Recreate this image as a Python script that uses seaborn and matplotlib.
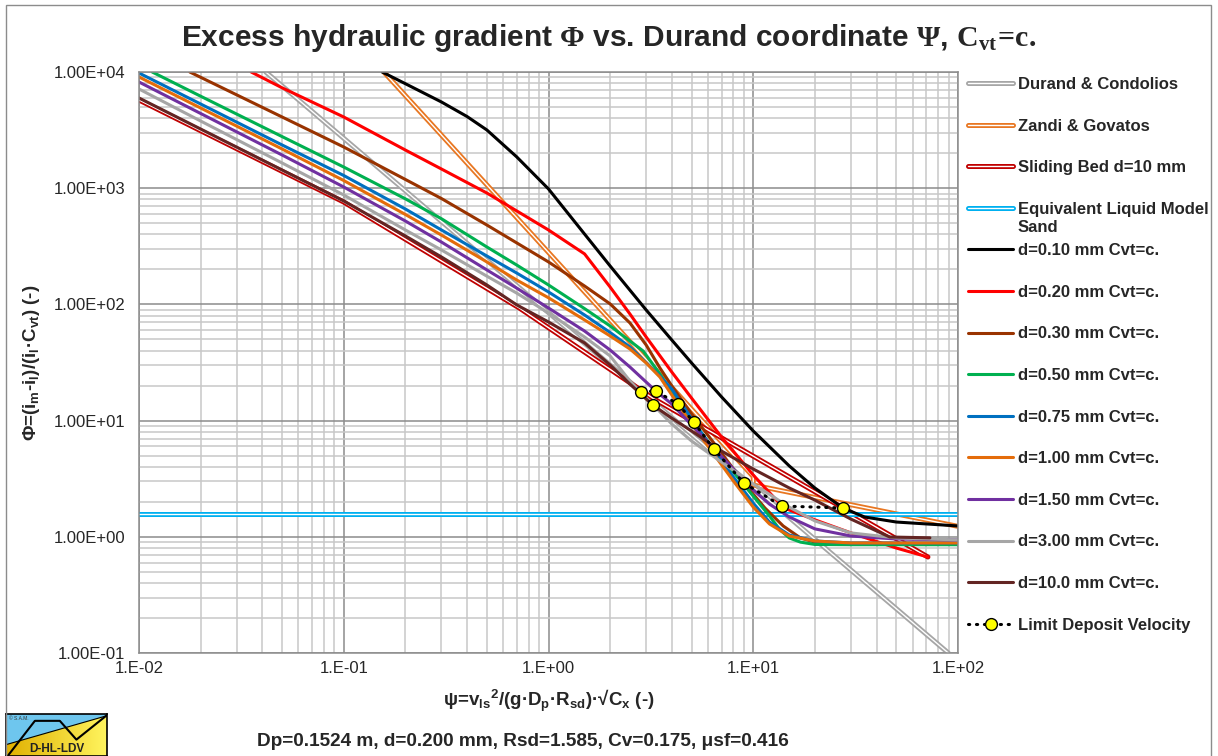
import numpy as np
import pandas as pd
import matplotlib
matplotlib.use("Agg")
import matplotlib.pyplot as plt
import matplotlib.patheffects as pe
from matplotlib.ticker import LogLocator, NullFormatter, FixedLocator
from matplotlib.patches import Rectangle, Polygon
from matplotlib.colors import LinearSegmentedColormap
import seaborn as sns

# ---------------- data ----------------
durand_x = [0.0416, 0.1, 1.0, 10.0, 89.7]
durand_y = [10000, 2688, 85, 2.69, 0.1]

zandi_x = [0.157, 1.0, 10.0, 10.0, 100]
zandi_y = [10000, 280, 3.29, 2.79, 1.23]

slide_x = [0.01, 0.1, 0.721, 3.23, 16.9, 71.3]
slide_y = [5740, 760, 93, 15.6, 2.90, 0.67]

elm_x = [0.01, 100]
elm_y = [1.585, 1.585]

d010_x = [0.154, 0.2, 0.3, 0.4, 0.5, 0.7, 1, 1.5, 2, 3, 4, 5, 7, 10, 15, 20, 27.4, 35, 50, 100]
d010_y = [10000, 7930, 5520, 4140, 3170, 1857, 985, 403, 214, 89.5, 49.4, 31.3, 16.0, 8.14, 4.07, 2.63, 1.77, 1.48, 1.34, 1.24]

d020_x = [0.0353, 0.05, 0.1, 0.2, 0.3, 0.5, 0.7, 1, 1.5, 2, 2.5, 3, 4, 5, 7, 10, 13.8, 15, 20, 30, 50, 71.3]
d020_y = [10000, 7310, 4100, 2130, 1463, 909, 637, 437, 272, 141, 82.6, 52.4, 26.2, 15.6, 7.22, 3.40, 1.84, 1.70, 1.40, 1.08, 0.80, 0.67]

d030_x = [0.0177, 0.05, 0.1, 0.2, 0.3, 0.5, 0.7, 1, 1.5, 2, 2.5, 3, 3.5, 4, 5, 7, 9, 11.4, 14, 17, 20, 30, 100]
d030_y = [10000, 4100, 2262, 1189, 815, 482, 338, 232, 144, 101, 69.2, 44.7, 28.4, 19.9, 11.4, 5.26, 2.90, 1.77, 1.24, 0.977, 0.90, 0.867, 0.867]

d050_x = [0.0116, 0.02, 0.05, 0.1, 0.2, 0.3, 0.5, 0.7, 1, 1.5, 2, 2.5, 2.9, 3.5, 4, 5, 6.41, 8, 10, 12, 13.5, 15, 17, 20, 30, 100]
d050_y = [10000, 6190, 2780, 1521, 810, 546, 312, 218, 147, 92, 65.2, 48.4, 39.7, 25.2, 17.6, 10.1, 5.70, 3.61, 2.24, 1.51, 1.15, 0.977, 0.90, 0.859, 0.855, 0.855]

d075_x = [0.01, 0.02, 0.05, 0.1, 0.2, 0.3, 0.5, 0.7, 1, 1.5, 2, 2.5, 3, 3.5, 4, 5.12, 6, 8, 10, 12, 15, 20, 30, 100]
d075_y = [9800, 5305, 2355, 1286, 662, 437, 261, 186, 128, 81.1, 57.3, 43.0, 31.6, 24.2, 18.7, 9.73, 6.55, 3.27, 1.95, 1.34, 1.035, 0.92, 0.885, 0.885]

d100_x = [0.01, 0.02, 0.05, 0.1, 0.2, 0.3, 0.5, 0.7, 1, 1.5, 2, 2.5, 3, 3.5, 4.28, 5, 6, 8, 10, 12, 15, 20, 30, 100]
d100_y = [9060, 4900, 2175, 1164, 594, 395, 232, 162, 114, 73.5, 53.5, 41.3, 31.3, 23.7, 13.9, 9.35, 6.04, 3.02, 1.80, 1.29, 1.016, 0.92, 0.885, 0.885]

d150_x = [0.01, 0.02, 0.05, 0.1, 0.2, 0.3, 0.5, 0.7, 1, 1.5, 2, 2.5, 3.34, 4, 5, 6, 8, 10, 12, 15, 20, 30, 50, 100]
d150_y = [8200, 4395, 1930, 1024, 522, 344, 198, 138, 93.1, 59.0, 40.5, 28.9, 18.0, 13.9, 9.16, 6.55, 3.83, 2.53, 1.91, 1.48, 1.17, 1.016, 0.957, 0.94]

d300_x = [0.01, 0.02, 0.05, 0.1, 0.2, 0.3, 0.5, 0.7, 1, 1.5, 2, 2.5, 2.82, 3.5, 4, 5, 7, 10, 15, 20, 30, 50, 100]
d300_y = [7140, 3786, 1648, 874, 437, 294, 175, 125, 84.3, 52.4, 36.0, 21.9, 17.6, 11.9, 9.35, 6.67, 4.40, 2.85, 1.80, 1.37, 1.08, 0.977, 0.94]

d1000_x = [0.01, 0.02, 0.05, 0.1, 0.2, 0.3, 0.5, 0.7, 1, 1.5, 2, 2.5, 3.23, 4, 5, 7, 10, 15, 20, 30, 46.4, 72.9]
d1000_y = [5975, 3230, 1434, 776, 388, 256, 147, 98.9, 70.6, 46.6, 30.1, 20.6, 13.6, 10.5, 8.14, 5.47, 3.83, 2.63, 2.07, 1.42, 0.996, 0.98]

ldv_x = [27.4, 13.8, 9.0, 6.41, 5.12, 4.28, 3.34, 2.82, 3.23]
ldv_y = [1.77, 1.84, 2.90, 5.70, 9.73, 13.9, 18.0, 17.6, 13.6]

x_ticks = [0.01, 0.1, 1, 10, 100]
x_tick_labels = ["1.E-02", "1.E-01", "1.E+00", "1.E+01", "1.E+02"]
y_ticks = [0.1, 1, 10, 100, 1000, 10000]
y_tick_labels = ["1.00E-01", "1.00E+00", "1.00E+01", "1.00E+02", "1.00E+03", "1.00E+04"]

# ---------------- style ----------------
sns.set_style("white")
plt.rcParams['font.family'] = ['Liberation Sans', 'DejaVu Sans']
plt.rcParams['mathtext.fontset'] = 'custom'
plt.rcParams['mathtext.rm'] = 'Liberation Serif'
plt.rcParams['mathtext.bf'] = 'Liberation Serif:bold'
plt.rcParams['mathtext.it'] = 'Liberation Sans:bold'
plt.rcParams['mathtext.sf'] = 'Liberation Sans:bold'

W, H = 1218, 756
fig = plt.figure(figsize=(W / 100, H / 100), dpi=100)
ax = fig.add_axes([139 / W, 1 - 653 / H, 819 / W, 581 / H])
ax.set_xscale('log')
ax.set_yscale('log')

OUT, INN = 3.6, 1.0


def draw(x, y, label, color, lw=2.2, double=False, **kw):
    df = pd.DataFrame({'x': x, 'y': y})
    if double:
        kw['path_effects'] = [pe.Normal(), pe.Stroke(linewidth=INN, foreground='white')]
        lw = OUT
    sns.lineplot(data=df, x='x', y='y', ax=ax, color=color, linewidth=lw, label=label,
                 estimator=None, sort=False, errorbar=None, legend=False,
                 solid_capstyle='round', solid_joinstyle='round', **kw)


draw(durand_x, durand_y, "Durand & Condolios", "#A6A6A6", double=True)
draw(zandi_x, zandi_y, "Zandi & Govatos", "#E87722", double=True)
draw(slide_x, slide_y, "Sliding Bed d=10 mm", "#C00000", double=True)
draw(elm_x, elm_y, "Equivalent Liquid Model", "#00B0F0", double=True)
draw(d010_x, d010_y, "d=0.10 mm Cvt=c.", "#000000")
draw(d020_x, d020_y, "d=0.20 mm Cvt=c.", "#FF0000")
draw(d030_x, d030_y, "d=0.30 mm Cvt=c.", "#993300")
draw(d050_x, d050_y, "d=0.50 mm Cvt=c.", "#00B050")
draw(d075_x, d075_y, "d=0.75 mm Cvt=c.", "#0070C0")
draw(d100_x, d100_y, "d=1.00 mm Cvt=c.", "#E46C0A")
draw(d150_x, d150_y, "d=1.50 mm Cvt=c.", "#7030A0")
draw(d300_x, d300_y, "d=3.00 mm Cvt=c.", "#A6A6A6")
draw(d1000_x, d1000_y, "d=10.0 mm Cvt=c.", "#632523")
draw(ldv_x, ldv_y, "Limit Deposit Velocity", "#000000", lw=2.2,
     linestyle=(0, (0.4, 2.2)), dash_capstyle='round',
     marker='o', markersize=8.5, markerfacecolor='#FFFF00',
     markeredgecolor='#000000', markeredgewidth=1.0)

# ---------------- axes ----------------
ax.set_xlim(0.01, 100)
ax.set_ylim(0.1, 10000)
ax.xaxis.set_major_locator(FixedLocator(x_ticks))
ax.set_xticklabels(x_tick_labels)
ax.yaxis.set_major_locator(FixedLocator(y_ticks))
ax.set_yticklabels(y_tick_labels)
for axis in (ax.xaxis, ax.yaxis):
    axis.set_minor_locator(LogLocator(base=10, subs=np.arange(2, 10), numticks=100))
    axis.set_minor_formatter(NullFormatter())
ax.grid(True, which='major', color='#8C8C8C', lw=1.1)
ax.grid(True, which='minor', color='#C8C8C8', lw=1.1)
ax.set_axisbelow(True)
ax.tick_params(which='both', length=0)
ax.tick_params(axis='y', pad=10, labelsize=12)
ax.tick_params(axis='x', pad=6, labelsize=12)
for s in ax.spines.values():
    s.set_color('#8C8C8C')
    s.set_linewidth(1.1)

ax.set_ylabel(r'Φ=(i$_{\mathsf{m}}$-i$_{\mathsf{l}}$)/(i$_{\mathsf{l}}$·C$_{\mathsf{vt}}$) (-)',
              fontsize=13.5, fontweight='bold')
ax.yaxis.set_label_coords(-0.119, 0.5)
ax.set_xlabel(r'ψ=v$_{\mathsf{ls}}$$^{\mathsf{2}}$/(g·D$_{\mathsf{p}}$·R$_{\mathsf{sd}}$)·√C$_{\mathsf{x}}$ (-)',
              fontsize=13.5, fontweight='bold')
ax.xaxis.set_label_coords(0.5, -0.060)

# ---------------- legend ----------------
handles, labels = ax.get_legend_handles_labels()
leg = fig.legend(handles, labels, loc='upper left', frameon=False,
                 prop={'weight': 'bold', 'size': 12},
                 handlelength=2.7, handletextpad=0.3, borderpad=0.0, borderaxespad=0.0,
                 numpoints=1, labelspacing=1.595, bbox_transform=fig.transFigure,
                 bbox_to_anchor=(968 / W, 1 - 77 / H))
fig.text(1018 / W, 1 - 227 / H, "Sand", ha='left', va='center', fontsize=12, fontweight='bold')

# ---------------- title & notes ----------------
title = r'Excess hydraulic gradient $\mathbf{\Phi}$ vs. Durand coordinate $\mathbf{\Psi}$, $\mathbf{C_{vt}\!=\!c.}$'
fig.text(0.5, 1 - 38 / H, title, ha='center', va='center', fontsize=21.5, fontweight='bold')

fig.text(257 / W, 1 - 742 / H, 'Dp=0.1524 m, d=0.200 mm, Rsd=1.585, Cv=0.175, μsf=0.416',
         ha='left', va='center', fontsize=13.7, fontweight='bold')

# outer chart border
fig.add_artist(Rectangle((6 / W, -0.02), (1211 - 6) / W, 1.02 - 5 / H, transform=fig.transFigure,
                         fill=False, edgecolor='#8C8C8C', lw=1.0))

# ---------------- logo ----------------
lg = fig.add_axes([6 / W, 0, 101 / W, 42 / H])
lg.set_xlim(0, 1)
lg.set_ylim(0, 1)
lg.set_xticks([])
lg.set_yticks([])
blue = Polygon([(0, 0.27), (0, 1), (1, 1), (1, 0.96)], closed=True, facecolor='#6EC6EE', edgecolor='none')
lg.add_patch(blue)
grad = np.linspace(0, 1, 256)[None, :]
cm = LinearSegmentedColormap.from_list('yl', ['#E0B000', '#FFF45E'])
im = lg.imshow(grad, extent=[0, 1, 0, 1], cmap=cm, aspect='auto', zorder=1)
clip = Polygon([(0, 0), (0, 0.27), (1, 0.96), (1, 0)], closed=True, transform=lg.transData,
               facecolor='none', edgecolor='none')
lg.add_patch(clip)
im.set_clip_path(clip)
lg.plot([0, 1], [0.27, 0.96], color='black', lw=0.8, zorder=3)
lg.plot([0.023, 0.286, 0.533, 0.697, 0.993], [0.02, 0.837, 0.837, 0.39, 0.96], color='black', lw=1.5, zorder=3)
lg.text(0.5, 0.16, 'D-HL-LDV', ha='center', va='center', fontsize=8.5, fontweight='bold', color='#222222', zorder=4)
lg.text(0.03, 0.9, '© S.A.M.', ha='left', va='center', fontsize=3.5, color='#333333', zorder=4)
for s in lg.spines.values():
    s.set_color('black')
    s.set_linewidth(1.2)

fig.savefig('out.png', dpi=100)
